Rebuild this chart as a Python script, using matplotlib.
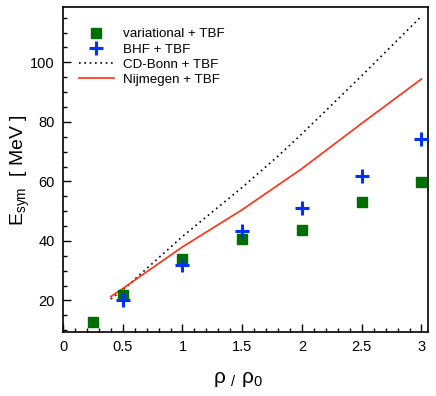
import matplotlib
matplotlib.use('Agg')
import matplotlib.pyplot as plt
from matplotlib.ticker import MultipleLocator, FuncFormatter

plt.rcParams['font.family'] = ['Liberation Sans', 'DejaVu Sans']
plt.rcParams['mathtext.fontset'] = 'custom'
plt.rcParams['mathtext.rm'] = 'Liberation Sans'
plt.rcParams['mathtext.it'] = 'Liberation Sans'

# data
var_x = [0.25, 0.5, 1.0, 1.5, 2.0, 2.5, 3.0]
var_y = [12.9, 21.9, 33.9, 40.5, 43.8, 53.0, 59.8]

bhf_x = [0.5, 1.0, 1.5, 2.0, 2.5, 3.0]
bhf_y = [20.2, 32.0, 43.2, 50.9, 61.8, 74.2]

cdb_x = [0.4, 0.5, 1.0, 1.5, 1.8, 2.0, 2.5, 3.0]
cdb_y = [20.5, 23.5, 41.5, 58.0, 68.5, 76.0, 95.5, 115.5]

nij_x = [0.4, 0.5, 1.0, 1.5, 2.0, 2.5, 3.0]
nij_y = [21.3, 24.0, 38.0, 50.5, 64.3, 79.5, 94.4]

fig = plt.figure(figsize=(4.36, 3.96), dpi=100)
ax = fig.add_axes([0.1445, 0.1616, 0.8372, 0.82])

ax.plot(var_x, var_y, 's', color='#006e00', ms=6.5, mec='#006e00',
        label='variational + TBF', zorder=3)
ax.plot(bhf_x, bhf_y, '+', color='#0030ff', ms=10, mew=2.2,
        label='BHF + TBF', zorder=4)
ax.plot(cdb_x, cdb_y, color='black', lw=1.2, dashes=(1, 2.2),
        label='CD-Bonn + TBF')
ax.plot(nij_x, nij_y, '-', color='#ff3010', lw=1.2, label='Nijmegen + TBF')

ax.set_xlim(0, 3.055)
ax.set_ylim(9.4, 118.5)

ax.xaxis.set_major_locator(MultipleLocator(0.5))
ax.xaxis.set_minor_locator(MultipleLocator(0.1))
ax.yaxis.set_major_locator(MultipleLocator(20))
ax.yaxis.set_minor_locator(MultipleLocator(5))
ax.xaxis.set_major_formatter(FuncFormatter(lambda v, p: '%g' % v))
ax.yaxis.set_major_formatter(FuncFormatter(lambda v, p: '%g' % v))
ax.tick_params(which='both', direction='in', top=False, right=False,
               labelsize=10.5, pad=6)
ax.tick_params(which='major', length=6, width=1)
ax.tick_params(which='minor', length=3, width=1)
for s in ax.spines.values():
    s.set_linewidth(1.2)

ax.set_xlabel(r'$\rho\ _{/}\ \rho_0$', fontsize=15)
ax.set_ylabel(r'E$_{\rm sym}$  [ MeV ]', fontsize=14)
ax.xaxis.set_label_coords(0.48, -0.118)
ax.yaxis.set_label_coords(-0.085, 0.5)

ax.legend(loc='upper left', bbox_to_anchor=(0.018, 0.965), frameon=False,
          fontsize=9.6, handlelength=2.6, handletextpad=0.7,
          labelspacing=0.22, borderaxespad=0.3)

fig.savefig('out.png', dpi=100)
